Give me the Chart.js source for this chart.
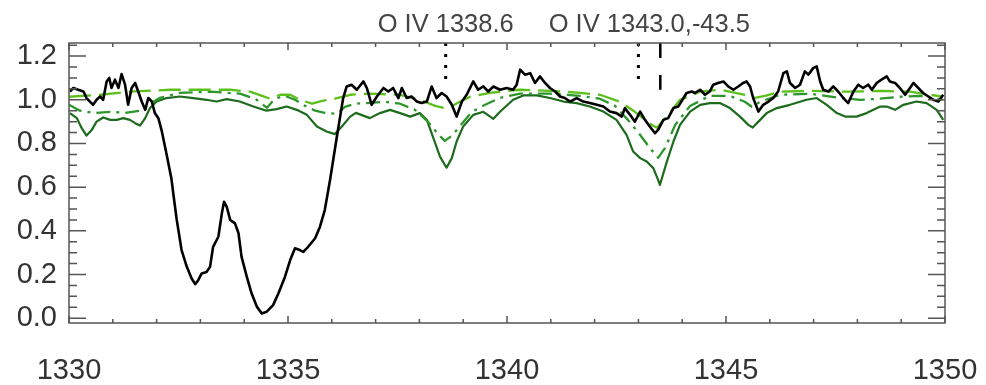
<!DOCTYPE html>
<html lang="en">
<head>
<meta charset="UTF-8">
<title>O IV 1338 / 1343 spectrum</title>
<script src="https://cdn.jsdelivr.net/npm/chart.js@4"></script>
<style>
  html, body { margin: 0; padding: 0; background: #fff; }
  canvas { display: block; }
</style>
</head>
<body>
<canvas id="spec" width="986" height="385"></canvas>
<script>
// wavelength (A) / normalised flux
const obsWave = [
  1330.02, 1330.10, 1330.21, 1330.33, 1330.40, 1330.55, 1330.63, 1330.71, 1330.78, 1330.86,
  1330.92, 1330.97, 1331.05, 1331.13, 1331.20, 1331.28, 1331.35, 1331.43, 1331.51, 1331.58,
  1331.66, 1331.74, 1331.81, 1331.89, 1331.96, 1332.04, 1332.12, 1332.23, 1332.34, 1332.38,
  1332.46, 1332.57, 1332.69, 1332.80, 1332.88, 1332.95, 1333.03, 1333.14, 1333.22, 1333.29,
  1333.41, 1333.49, 1333.54, 1333.60, 1333.68, 1333.79, 1333.87, 1333.94, 1334.06, 1334.17,
  1334.29, 1334.40, 1334.51, 1334.66, 1334.78, 1334.93, 1335.05, 1335.16, 1335.27, 1335.35,
  1335.46, 1335.62, 1335.73, 1335.84, 1335.92, 1335.96, 1336.11, 1336.26, 1336.34, 1336.45,
  1336.57, 1336.72, 1336.80, 1336.91, 1337.03, 1337.18, 1337.29, 1337.40, 1337.52, 1337.60,
  1337.71, 1337.82, 1337.94, 1338.05, 1338.17, 1338.28, 1338.39, 1338.51, 1338.62, 1338.74,
  1338.85, 1338.97, 1339.08, 1339.23, 1339.34, 1339.46, 1339.57, 1339.69, 1339.84, 1339.99,
  1340.14, 1340.22, 1340.30, 1340.41, 1340.53, 1340.64, 1340.75, 1340.87, 1340.98, 1341.10,
  1341.21, 1341.32, 1341.44, 1341.59, 1341.74, 1341.89, 1342.05, 1342.20, 1342.35, 1342.50,
  1342.62, 1342.69, 1342.81, 1342.92, 1343.04, 1343.15, 1343.26, 1343.38, 1343.45, 1343.57,
  1343.68, 1343.80, 1343.91, 1344.03, 1344.10, 1344.22, 1344.29, 1344.41, 1344.52, 1344.63,
  1344.71, 1344.82, 1344.94, 1345.05, 1345.17, 1345.28, 1345.39, 1345.47, 1345.55, 1345.62,
  1345.74, 1345.85, 1345.97, 1346.08, 1346.19, 1346.31, 1346.39, 1346.46, 1346.58, 1346.69,
  1346.80, 1346.88, 1346.99, 1347.07, 1347.15, 1347.22, 1347.34, 1347.45, 1347.56, 1347.68,
  1347.79, 1347.91, 1348.02, 1348.13, 1348.25, 1348.33, 1348.44, 1348.55, 1348.67, 1348.74,
  1348.86, 1348.97, 1349.09, 1349.20, 1349.28, 1349.39, 1349.50, 1349.62, 1349.73, 1349.85,
  1349.96
];
const obsFlux = [
  1.038, 1.054, 1.046, 1.038, 1.008, 0.977, 1.000, 1.015, 1.000, 1.084,
  1.100, 1.054, 1.092, 1.054, 1.118, 1.069, 0.977, 1.054, 1.077, 1.038,
  0.992, 0.954, 1.008, 0.992, 0.939, 0.916, 0.855, 0.748, 0.637, 0.572,
  0.450, 0.312, 0.235, 0.182, 0.156, 0.174, 0.205, 0.212, 0.235, 0.327,
  0.373, 0.480, 0.533, 0.511, 0.450, 0.434, 0.389, 0.281, 0.189, 0.113,
  0.052, 0.022, 0.029, 0.060, 0.113, 0.189, 0.266, 0.320, 0.312, 0.304,
  0.327, 0.366, 0.419, 0.495, 0.587, 0.633, 0.824, 1.008, 1.061, 1.069,
  1.046, 1.084, 1.054, 0.977, 1.015, 1.054, 1.038, 1.054, 1.008, 1.054,
  1.008, 1.015, 0.992, 0.985, 0.992, 1.061, 1.008, 1.031, 1.015, 0.977,
  0.923, 0.992, 1.023, 1.084, 1.046, 1.061, 1.038, 1.061, 1.046, 1.054,
  1.046, 1.069, 1.138, 1.115, 1.122, 1.077, 1.107, 1.077, 1.054, 1.038,
  1.015, 1.008, 0.992, 1.008, 0.992, 0.985, 0.977, 0.969, 0.946, 0.939,
  0.923, 0.962, 0.931, 0.900, 0.946, 0.908, 0.878, 0.847, 0.862, 0.908,
  0.916, 0.962, 0.969, 1.008, 1.031, 1.038, 1.031, 1.046, 1.023, 1.038,
  1.069, 1.077, 1.084, 1.061, 1.046, 1.061, 1.077, 1.084, 1.061, 1.008,
  0.946, 0.977, 0.992, 1.008, 1.038, 1.122, 1.130, 1.077, 1.054, 1.069,
  1.130, 1.115, 1.145, 1.153, 1.084, 1.046, 1.038, 1.061, 1.038, 1.008,
  0.985, 1.038, 1.069, 1.054, 1.069, 1.046, 1.077, 1.092, 1.107, 1.084,
  1.077, 1.054, 1.023, 1.054, 1.077, 1.054, 1.031, 1.015, 1.000, 0.992,
  1.023
];

// model, solid dark green
const solidWave = [
  1330.02, 1330.18, 1330.29, 1330.40, 1330.52, 1330.63, 1330.78, 1330.94, 1331.09, 1331.24,
  1331.39, 1331.51, 1331.62, 1331.74, 1331.85, 1332.00, 1332.23, 1332.53, 1332.84, 1333.14,
  1333.37, 1333.60, 1333.90, 1334.21, 1334.51, 1334.74, 1334.97, 1335.20, 1335.43, 1335.66,
  1335.88, 1336.07, 1336.23, 1336.42, 1336.55, 1336.87, 1337.10, 1337.33, 1337.56, 1337.79,
  1338.01, 1338.17, 1338.32, 1338.47, 1338.62, 1338.74, 1338.85, 1339.00, 1339.23, 1339.46,
  1339.69, 1339.84, 1340.14, 1340.37, 1340.68, 1340.98, 1341.29, 1341.59, 1341.89, 1342.20,
  1342.50, 1342.73, 1342.88, 1343.04, 1343.19, 1343.34, 1343.45, 1343.49, 1343.65, 1343.80,
  1343.95, 1344.18, 1344.41, 1344.63, 1344.86, 1345.09, 1345.32, 1345.51, 1345.61, 1345.74,
  1345.93, 1346.16, 1346.46, 1346.84, 1347.07, 1347.30, 1347.53, 1347.72, 1347.98, 1348.21,
  1348.52, 1348.67, 1348.86, 1349.05, 1349.35, 1349.58, 1349.81, 1349.96
];
const solidFlux = [
  0.939, 0.916, 0.870, 0.836, 0.862, 0.900, 0.919, 0.908, 0.908, 0.916,
  0.908, 0.893, 0.882, 0.916, 0.962, 0.992, 1.008, 1.015, 1.008, 1.000,
  0.992, 1.003, 0.992, 0.969, 0.950, 0.957, 0.969, 0.954, 0.931, 0.878,
  0.855, 0.843, 0.878, 0.923, 0.940, 0.916, 0.939, 0.954, 0.939, 0.923,
  0.939, 0.908, 0.824, 0.740, 0.689, 0.733, 0.809, 0.878, 0.931, 0.945,
  0.913, 0.945, 1.000, 1.020, 1.020, 1.008, 0.992, 0.985, 0.969, 0.946,
  0.908, 0.839, 0.763, 0.733, 0.717, 0.687, 0.633, 0.610, 0.717, 0.809,
  0.885, 0.946, 0.977, 0.985, 0.985, 0.962, 0.923, 0.885, 0.873, 0.900,
  0.939, 0.962, 0.977, 1.000, 1.008, 0.977, 0.939, 0.923, 0.923, 0.939,
  0.969, 0.969, 0.954, 0.977, 0.992, 0.985, 0.954, 0.908
];

// model, dash-dot green
const dashDotWave = [
  1330.00, 1330.25, 1330.59, 1330.94, 1331.28, 1331.62, 1331.85, 1332.08, 1332.53, 1333.22,
  1333.90, 1334.25, 1334.52, 1334.70, 1334.93, 1335.16, 1335.39, 1335.62, 1335.84, 1336.12,
  1336.30, 1336.53, 1336.87, 1337.21, 1337.56, 1337.90, 1338.20, 1338.42, 1338.58, 1338.74,
  1338.97, 1339.20, 1339.50, 1339.84, 1340.30, 1340.98, 1341.67, 1342.12, 1342.47, 1342.76,
  1343.04, 1343.26, 1343.45, 1343.61, 1343.84, 1344.18, 1344.63, 1345.09, 1345.43, 1345.59,
  1345.78, 1346.23, 1346.92, 1347.60, 1348.06, 1348.52, 1348.97, 1349.43, 1349.95
];
const dashDotFlux = [
  0.977, 0.950, 0.940, 0.945, 0.940, 0.950, 0.982, 1.009, 1.032, 1.037,
  1.028, 1.005, 0.963, 1.005, 1.018, 1.000, 0.972, 0.950, 0.940, 0.936,
  0.968, 0.982, 0.986, 0.991, 0.982, 0.954, 0.899, 0.844, 0.812, 0.835,
  0.890, 0.945, 0.977, 1.009, 1.028, 1.028, 1.018, 1.005, 0.972, 0.908,
  0.839, 0.780, 0.734, 0.780, 0.885, 0.972, 1.018, 1.018, 0.991, 0.968,
  0.991, 1.023, 1.028, 1.009, 1.000, 1.005, 1.014, 1.018, 1.000
];

// model, dashed light green
const dashedWave = [
  1330.00, 1330.71, 1331.39, 1332.31, 1333.68, 1334.13, 1334.41, 1334.59, 1334.82, 1335.05,
  1335.27, 1335.55, 1335.78, 1336.07, 1336.42, 1336.87, 1337.56, 1338.01, 1338.36, 1338.63,
  1338.88, 1339.16, 1339.61, 1340.30, 1340.98, 1341.67, 1342.12, 1342.58, 1342.92, 1343.26,
  1343.42, 1343.68, 1343.95, 1344.41, 1344.86, 1345.43, 1345.66, 1345.89, 1346.23, 1346.92,
  1347.83, 1348.52, 1349.20, 1349.66, 1349.95
];
const dashedFlux = [
  1.014, 1.023, 1.037, 1.046, 1.046, 1.037, 1.018, 1.005, 1.023, 1.023,
  1.000, 0.982, 0.995, 1.005, 1.023, 1.028, 1.023, 1.000, 0.972, 0.959,
  0.986, 1.014, 1.032, 1.046, 1.041, 1.032, 1.023, 0.991, 0.945, 0.890,
  0.872, 0.931, 1.000, 1.037, 1.046, 1.023, 1.009, 1.018, 1.037, 1.041,
  1.037, 1.041, 1.037, 1.023, 1.014
];

// line markers along the top
const dottedMarks = [1338.6, 1343.0];
const dashedMarks = [1343.5];
const markTop = 1.26;
const dottedBottom = 1.083;
const dashedBottom = 1.046;
const labelText = ['O IV 1338.6', 'O IV 1343.0,-43.5'];
const labelWave = [1338.6, 1343.25];

const xTicks = [1330, 1335, 1340, 1345, 1350];
const yTicks = [0.0, 0.2, 0.4, 0.6, 0.8, 1.0, 1.2];

function pts(w, f) {
  return w.map((x, i) => ({ x: x, y: f[i] }));
}

function markLine(x, bottom) {
  return [{ x: x, y: markTop }, { x: x, y: bottom }];
}

const FONT = 'Liberation Sans';

// box with inward ticks (IDL style) + the labels on top
const frame = {
  id: 'frame',
  afterDraw(chart) {
    const ctx = chart.ctx;
    const a = chart.chartArea;
    const xs = chart.scales.x, ys = chart.scales.y;
    ctx.save();
    ctx.strokeStyle = '#555';
    ctx.lineWidth = 1.5;
    ctx.strokeRect(a.left, a.top, a.right - a.left, a.bottom - a.top);
    ctx.beginPath();
    for (let v = 1330; v <= 1350; v++) {
      const px = xs.getPixelForValue(v);
      const len = v % 5 === 0 ? 7 : 4;
      ctx.moveTo(px, a.bottom); ctx.lineTo(px, a.bottom - len);
      ctx.moveTo(px, a.top); ctx.lineTo(px, a.top + len);
    }
    for (let k = 0; k <= 25; k++) {
      const py = ys.getPixelForValue(k * 0.05);
      if (py < a.top) continue;
      const len = k % 4 === 0 ? 17 : 8;
      ctx.moveTo(a.left, py); ctx.lineTo(a.left + len, py);
      ctx.moveTo(a.right, py); ctx.lineTo(a.right - len, py);
    }
    ctx.stroke();

    ctx.fillStyle = '#444';
    ctx.font = '25.5px "' + FONT + '"';
    ctx.textAlign = 'center';
    ctx.textBaseline = 'alphabetic';
    labelText.forEach((t, i) => {
      ctx.fillText(t, xs.getPixelForValue(labelWave[i]), 32);
    });
    ctx.restore();
  }
};

const datasets = [];
dottedMarks.forEach(w => datasets.push({
  data: markLine(w, dottedBottom), borderColor: '#000', borderWidth: 3, borderDash: [3, 8]
}));
dashedMarks.forEach(w => datasets.push({
  data: markLine(w, dashedBottom), borderColor: '#000', borderWidth: 2.5, borderDash: [15, 17]
}));
datasets.push({ data: pts(obsWave, obsFlux), borderColor: '#000', borderWidth: 2.6 });
datasets.push({ data: pts(dashedWave, dashedFlux), borderColor: '#5cc01c', borderWidth: 2.3, borderDash: [22, 8] });
datasets.push({ data: pts(dashDotWave, dashDotFlux), borderColor: '#2c962a', borderWidth: 2.3, borderDash: [14, 6, 3, 6] });
datasets.push({ data: pts(solidWave, solidFlux), borderColor: '#1d6b1d', borderWidth: 2.2 });

new Chart(document.getElementById('spec'), {
  type: 'line',
  data: { datasets: datasets },
  options: {
    responsive: false,
    animation: false,
    events: [],
    layout: { padding: { top: 43, right: 41, left: 0, bottom: 0 } },
    plugins: { legend: { display: false }, tooltip: { enabled: false } },
    elements: {
      point: { radius: 0 },
      line: { tension: 0, borderJoinStyle: 'round', fill: false }
    },
    scales: {
      x: {
        type: 'linear', min: 1330, max: 1350,
        grid: { display: false, drawTicks: false },
        border: { display: false },
        afterBuildTicks: s => { s.ticks = xTicks.map(v => ({ value: v })); },
        afterFit: s => { s.height = 62; s.paddingLeft = 0; s.paddingRight = 0; },
        ticks: {
          maxRotation: 0, autoSkip: false, padding: 31, color: '#333',
          font: { family: FONT, size: 29 },
          callback: v => String(v)
        }
      },
      y: {
        type: 'linear', min: -0.022, max: 1.26,
        grid: { display: false, drawTicks: false },
        border: { display: false },
        afterBuildTicks: s => { s.ticks = yTicks.map(v => ({ value: v })); },
        afterFit: s => { s.width = 69; s.paddingTop = 0; s.paddingBottom = 0; },
        ticks: {
          autoSkip: false, padding: 12, color: '#333',
          font: { family: FONT, size: 29 },
          callback: v => v.toFixed(1)
        }
      }
    }
  },
  plugins: [frame]
});
</script>
</body>
</html>
